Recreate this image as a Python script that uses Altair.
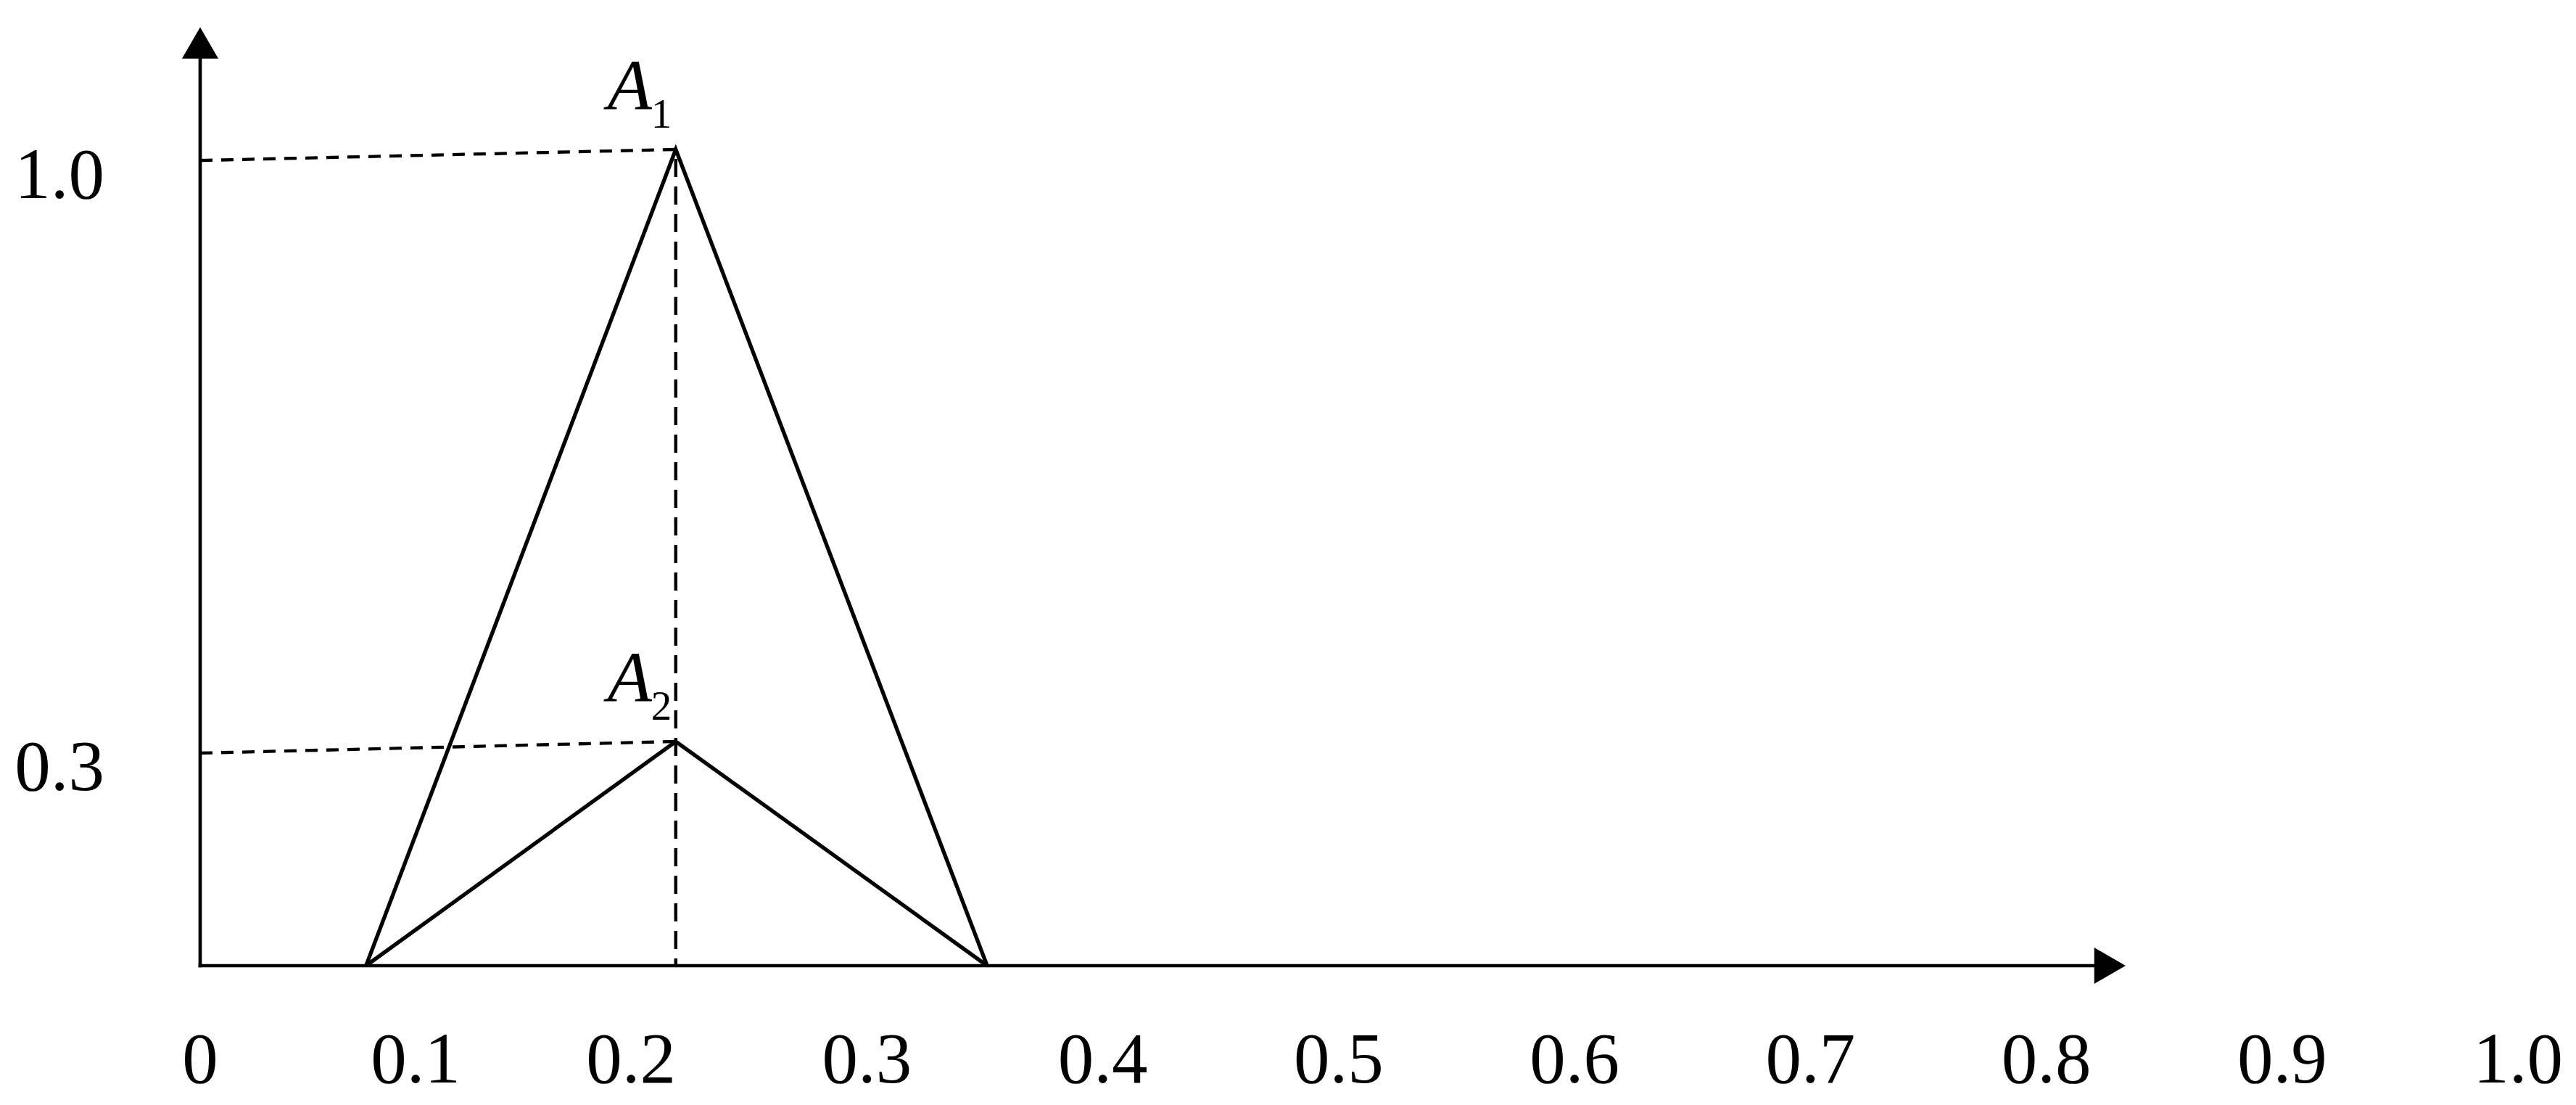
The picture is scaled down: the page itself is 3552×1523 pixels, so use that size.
import altair as alt
import pandas as pd

# ---------------- values ----------------
x_ticks = [0.0, 0.1, 0.2, 0.3, 0.4, 0.5, 0.6, 0.7, 0.8, 0.9, 1.0]
x_tick_labels = ["0", "0.1", "0.2", "0.3", "0.4", "0.5", "0.6", "0.7", "0.8", "0.9", "1.0"]
y_ticks = [1.0, 0.3]
y_tick_labels = ["1.0", "0.3"]

series_names = ["A1", "A2"]
series_letters = ["A", "A"]
series_subscripts = ["1", "2"]
peak_heights = [1.0, 0.3]
support_left = 0.077
peak_x = 0.219
support_right = 0.351
guide_left_heights = [0.987, 0.2845]   # dashed guides meet the vertical axis a bit lower

x_axis_end = 0.827
y_axis_end = 1.126

# ---------------- layout (the drawing's axes are unevenly spaced) ----------------
W, H = 3536, 1507
FONT = "Liberation Serif"
x_scale = alt.Scale(domain=[0, 0.2, 1.0], range=[268, 862, 3464], nice=False, zero=False)
y_scale = alt.Scale(domain=[0, 0.3, 1.0], range=[1323, 1014, 198], nice=False, zero=False)


def X(field):
    return alt.X(field, type="quantitative", scale=x_scale, axis=None)


def Y(field):
    return alt.Y(field, type="quantitative", scale=y_scale, axis=None)


# ---------------- tables built from the arrays ----------------
axes_df = pd.DataFrame({
    "x": [0.0, 0.0], "y": [0.0, 0.0],
    "x2": [x_axis_end, 0.0], "y2": [0.0, y_axis_end],
})
arrows_df = pd.DataFrame({
    "x": [x_axis_end, 0.0], "y": [0.0, y_axis_end],
    "shape": ["triangle-right", "triangle-up"],
})
tri_rows = []
for name, h in zip(series_names, peak_heights):
    tri_rows += [
        {"name": name, "x": support_left, "y": 0.0, "o": 0},
        {"name": name, "x": peak_x, "y": h, "o": 1},
        {"name": name, "x": support_right, "y": 0.0, "o": 2},
    ]
tri_df = pd.DataFrame(tri_rows)
guides_h_df = pd.DataFrame({
    "x": [0.0] * len(peak_heights), "y": guide_left_heights,
    "x2": [peak_x] * len(peak_heights), "y2": peak_heights,
})
guide_v_df = pd.DataFrame({"x": [peak_x], "y": [max(peak_heights)], "y2": [0.0]})
xlab_df = pd.DataFrame({"x": x_ticks, "y": [0.0] * len(x_ticks), "t": x_tick_labels})
ylab_df = pd.DataFrame({"x": [0.0] * len(y_ticks), "y": y_ticks, "t": y_tick_labels})
names_df = pd.DataFrame({
    "x": [peak_x] * len(series_names), "y": peak_heights,
    "letter": series_letters, "sub": series_subscripts,
})

# ---------------- layers ----------------
axes = alt.Chart(axes_df).mark_rule(color="black", strokeWidth=4.7, strokeCap="square").encode(
    x=X("x"), y=Y("y"), x2="x2", y2="y2")

arrows = alt.Chart(arrows_df).mark_point(filled=True, size=2500, opacity=1, color="black").encode(
    x=X("x"), y=Y("y"), shape=alt.Shape("shape:N", scale=None))

triangles = alt.Chart(tri_df).mark_line(color="black", strokeWidth=5.3, strokeJoin="miter").encode(
    x=X("x"), y=Y("y"), detail="name:N", order="o:Q")

guides_h = alt.Chart(guides_h_df).mark_rule(color="black", strokeWidth=4.3, strokeDash=[17, 12]).encode(
    x=X("x"), y=Y("y"), x2="x2", y2="y2")
guide_v = alt.Chart(guide_v_df).mark_rule(
    color="black", strokeWidth=4.5, strokeDash=[25, 13], strokeDashOffset=25).encode(
    x=X("x"), y=Y("y"), y2="y2")

xlabels = alt.Chart(xlab_df).mark_text(
    font=FONT, fontSize=99, align="center", baseline="alphabetic", dy=161, color="black").encode(
    x=X("x"), y=Y("y"), text="t:N")
ylabels = alt.Chart(ylab_df).mark_text(
    font=FONT, fontSize=99, align="right", baseline="alphabetic", dx=-132, dy=67, color="black").encode(
    x=X("x"), y=Y("y"), text="t:N")

letters = alt.Chart(names_df).mark_text(
    font=FONT, fontSize=100, fontStyle="italic", align="right", baseline="alphabetic",
    dx=-33, dy=-55, color="black").encode(x=X("x"), y=Y("y"), text="letter:N")
subs = alt.Chart(names_df).mark_text(
    font=FONT, fontSize=57, align="left", baseline="alphabetic",
    dx=-34, dy=-30, color="black").encode(x=X("x"), y=Y("y"), text="sub:N")

chart = alt.layer(
    guides_h, guide_v, triangles, axes, arrows, xlabels, ylabels, letters, subs
).properties(
    width=W, height=H, autosize=alt.AutoSizeParams(type="none"), padding=0, background="white"
).configure_view(strokeWidth=0)

chart.save("out.html", embed_options={"renderer": "svg", "actions": False})
